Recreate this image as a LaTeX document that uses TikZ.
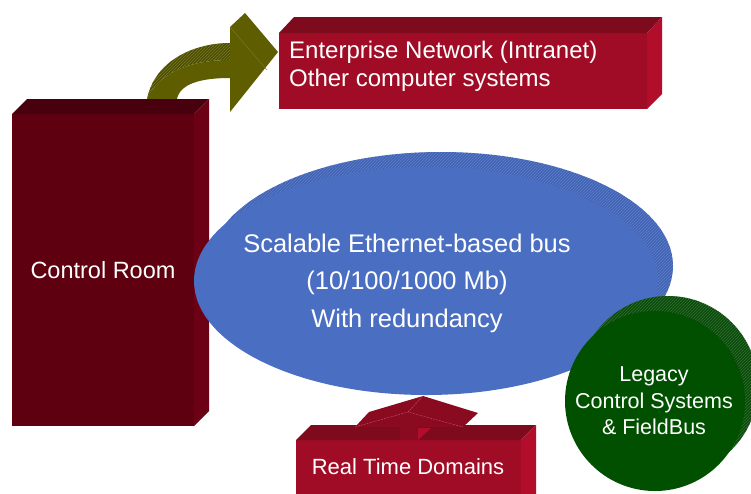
\documentclass[tikz,border=0pt]{standalone}
\usepackage{fontspec}
\setmainfont{Liberation Sans}
\usetikzlibrary{patterns}
\definecolor{roomfront}{HTML}{5E0010}
\definecolor{roomtop}{HTML}{48000E}
\definecolor{roomside}{HTML}{6C0014}
\definecolor{boxfront}{HTML}{A00C25}
\definecolor{boxtop}{HTML}{7E0A1E}
\definecolor{boxside}{HTML}{B20E2C}
\definecolor{uparrow}{HTML}{8A0A20}
\definecolor{busfront}{HTML}{4A6EC1}
\definecolor{busside}{HTML}{4262B2}
\definecolor{busline}{HTML}{5E80CE}
\definecolor{legfront}{HTML}{005000}
\definecolor{legside}{HTML}{0B4A0B}
\definecolor{legline}{HTML}{307030}
\definecolor{olivefront}{HTML}{5E5E00}
\definecolor{olivetop}{HTML}{4E4E00}
\definecolor{oliveline}{HTML}{7A7A30}
\tikzset{
  label/.style={text=white, align=center, inner sep=0pt}
}
\begin{document}
\begin{tikzpicture}[x=1pt, y=-1pt]
\useasboundingbox (0,0) rectangle (751,493);

% curved block arrow from the control room to the enterprise network
\fill[olivetop] (147,99) .. controls (155,60) and (195,43) .. (230,43) -- (230,60)
   .. controls (195,60) and (160,70) .. (147,99) -- cycle;
\fill[pattern=north east lines, pattern color=oliveline] (147,99) .. controls (155,60) and (195,43) .. (230,43) -- (230,60)
   .. controls (195,60) and (160,70) .. (147,99) -- cycle;
\fill[olivefront] (147,99) .. controls (160,70) and (195,60) .. (230,60) -- (230,78)
   .. controls (200,78) and (180,84) .. (177,99) -- cycle;
\fill[olivefront] (230,27) -- (245,13) -- (278,52) -- (230,112) -- cycle;
\draw[oliveline, line width=0.4pt] (230,27) -- (267,70);

% control room block
\fill[roomfront] (12,114) rectangle (194,426);
\fill[roomtop] (12,114) -- (27,99) -- (209,99) -- (194,114) -- cycle;
\fill[roomside] (194,114) -- (209,99) -- (209,411) -- (194,426) -- cycle;
\node[label, font=\fontsize{23.5}{28}\selectfont] (room) at (103,270) {Control Room};

% enterprise network block
\fill[boxfront] (279,33) rectangle (647,109);
\fill[boxtop] (279,33) -- (294,17) -- (662,17) -- (647,33) -- cycle;
\fill[boxside] (647,33) -- (662,17) -- (662,94) -- (647,109) -- cycle;
\node[label, align=left, anchor=west, font=\fontsize{24}{28}\selectfont] (net) at (289,66)
  {Enterprise Network (Intranet)\\Other computer systems};

% ethernet bus disc
\fill[busside] (441,266) ellipse [x radius=232, y radius=114];
\fill[pattern=north east lines, pattern color=busline] (441,266) ellipse [x radius=232, y radius=114];
\fill[busfront] (426,281) ellipse [x radius=232, y radius=114];
\node[label, font=\fontsize{25.5}{37.5}\selectfont] (bus) at (407,283)
  {Scalable Ethernet-based bus\\(10/100/1000 Mb)\\With redundancy};

% legacy systems disc
\fill[legside] (668,386) circle [radius=90];
\fill[pattern=north east lines, pattern color=legline] (668,386) circle [radius=90];
\fill[legfront] (655,401) circle [radius=90];
\node[label, font=\fontsize{21.5}{26.5}\selectfont] (legacy) at (654,401)
  {Legacy\\Control Systems\\\& FieldBus};

% real time domains block
\fill[boxfront] (296,440) rectangle (521,500);
\fill[boxtop] (296,440) -- (311,425) -- (536,425) -- (521,440) -- cycle;
\fill[boxside] (521,440) -- (536,425) -- (536,500) -- (521,500) -- cycle;
\node[label, font=\fontsize{22}{26}\selectfont] (rt) at (408,467) {Real Time Domains};

% up arrow from the real time block to the bus
\fill[uparrow] (400,427) rectangle (418,440);
\fill[boxside] (418,440) -- (418,428) -- (431,428) -- cycle;
\fill[uparrow] (355,427) -- (369,412) -- (423,396) -- (478,413) -- (463,427) -- cycle;
\draw[boxside!70!white, dash pattern=on 2pt off 1pt, line width=0.4pt]
  (423,396) -- (408,412) (355,427) -- (408,412) -- (463,427);
\end{tikzpicture}
\end{document}
